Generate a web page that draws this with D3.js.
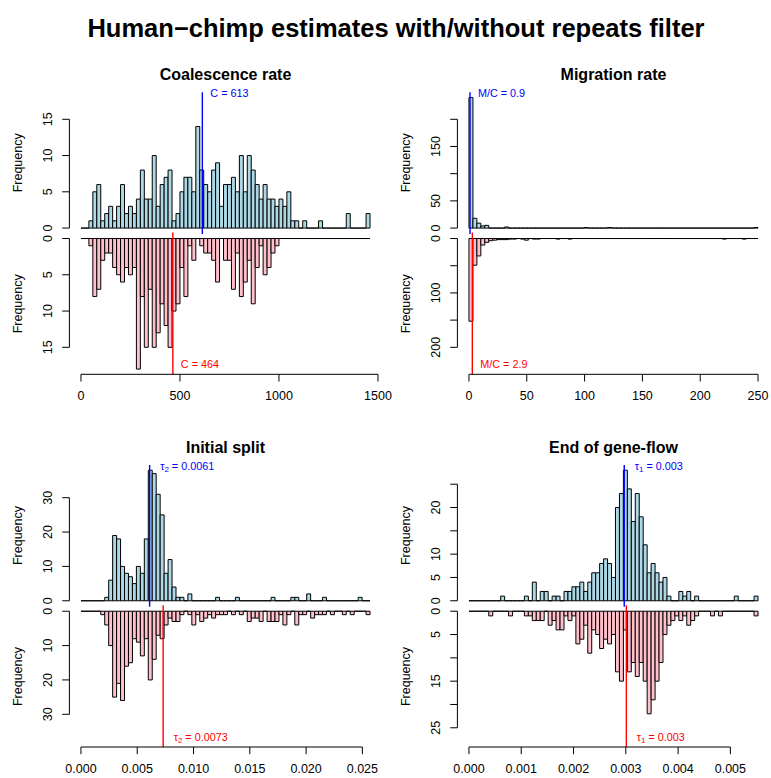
<!DOCTYPE html>
<html><head><meta charset="utf-8">
<script src="https://cdn.jsdelivr.net/npm/d3@7"></script>
<style>
body{margin:0;background:#fff}
svg{display:block}
text{font-family:"Liberation Sans",Arial,Helvetica,sans-serif}
</style>
</head><body>
<svg id="c" width="771" height="778"></svg>
<script>
// ---------------- data ----------------
const mainTitle = "Human\u2212chimp estimates with/without repeats filter";
const panelTitles = ["Coalescence rate", "Migration rate", "Initial split", "End of gene-flow"];
const nBins = 73;
const xMaxima = [1460, 250, 0.02568, 0.005529];

// histogram counts (73 equal bins from 0 to xMax), upper = blue, lower = pink
const coalUpper = [0,0,1,5,6,1,2,3,1,3, 6,2,3,2,4,8,4,4,10,3, 6,7,8,1,2,5,7,7,5,14, 8,6,5,8,9,3,6,6,7,5, 10,5,10,8,6,4,6,4,4,3, 4,3,5,1,1,0,1,0,0,0, 1,0,0,0,0,0,0,2,0,0, 0,0,2];
const coalLower = [0,0,1,8,7,3,2,2,4,5, 6,4,5,4,18,8,15,7,15,13, 9,12,15,10,9,4,8,1,3,0, 1,2,2,3,6,0,3,3,7,2, 8,6,3,9,4,1,5,4,2,1, 0,0,0,0,0,0,0,0,0,0, 0,0,0,0,0,0,0,0,0,0, 0,0,0];
const migUpper = [240,18,9,4,5,0,0,0,0,2, 0,0,0,0,0,0,0,0,0,0, 0,0,0,0,0,0,0,0,0,1, 0,0,0,0,0,1,0,0,0,0, 0,0,0,0,0,0,0,0,0,0, 0,0,0,0,0,0,0,0,0,0, 0,0,0,0,0,0,0,0,0,0, 0,0,1];
const migLower = [152,49,32,12,7,4,3,2,2,2, 1,1,0,1,3,0,1,1,0,0, 0,0,1,0,0,1,0,0,0,0, 0,0,0,0,0,0,0,0,0,0, 0,0,0,0,0,0,0,0,0,0, 0,0,0,0,0,0,0,0,0,0, 0,0,0,0,1,0,0,0,0,1, 0,0,0];
const splitUpper = [0,0,0,0,0,0,1,6,19,18, 10,8,7,5,10,8,18,38,37,31, 25,8,12,4,1,1,0,2,0,0, 0,0,0,0,1,0,0,0,0,1, 0,0,0,0,0,0,0,0,1,0, 0,0,0,1,1,0,0,2,0,0, 0,1,0,0,0,0,0,0,0,0, 1,0,0];
const splitLower = [0,0,0,0,0,1,4,10,25,21, 26,16,15,8,9,13,8,20,14,7, 8,4,2,3,3,1,0,1,4,1, 3,2,1,2,1,1,1,0,1,0, 1,0,3,2,2,3,0,3,3,3, 1,4,1,0,4,1,1,0,2,1, 1,1,0,1,0,0,1,0,1,0, 0,0,1];
const flowUpper = [0,0,0,0,0,0,0,0,1,0, 0,0,0,0,1,0,4,0,2,2, 0,1,1,0,2,2,3,3,4,2, 4,6,6,8,9,8,5,20,23,28, 24,17,23,18,12,6,8,6,4,5, 1,0,0,2,1,2,0,1,0,0, 0,0,0,0,0,0,0,1,0,0, 0,0,1];
const flowLower = [0,0,0,0,0,1,0,0,0,0, 1,0,0,0,1,1,2,2,2,0, 3,2,4,4,1,2,1,7,6,3, 9,4,5,8,6,7,5,13,15,4, 13,11,14,11,15,22,19,15,11,5, 3,2,1,2,1,3,2,1,0,0, 0,1,0,1,0,0,0,0,0,0, 0,0,1];

// axis ticks
const coalXTicks = [0, 500, 1000, 1500];
const migXTicks = [0, 50, 100, 150, 200, 250];
const splitXTicks = [0, 0.005, 0.010, 0.015, 0.020, 0.025];
const flowXTicks = [0, 0.001, 0.002, 0.003, 0.004, 0.005];
const coalYTicks = [0, 5, 10, 15];
const migYTicks = [0, 50, 100, 150, 200];
const splitYTicks = [0, 10, 20, 30];
const flowYTicks = [0, 5, 10, 15, 20, 25];
const coalYLabelsUpper = [0, 5, 10, 15], coalYLabelsLower = [0, 5, 10, 15];
const migYLabelsUpper = [0, 50, 150], migYLabelsLower = [0, 100, 200];
const splitYLabelsUpper = [0, 10, 20, 30], splitYLabelsLower = [0, 10, 20, 30];
const flowYLabelsUpper = [0, 5, 10, 20], flowYLabelsLower = [0, 5, 15, 25];

// point estimates
const upperEstimates = [613, 0.9, 0.0061, 0.00297];
const lowerEstimates = [464, 2.9, 0.0073, 0.00301];
const estSymbols = ["C", "M/C", "\u03c4", "\u03c4"];
const estSubscripts = ["", "", "2", "1"];
const upperEstText = ["613", "0.9", "0.0061", "0.003"];
const lowerEstText = ["464", "2.9", "0.0073", "0.003"];

// ---------------- drawing ----------------
const panels = [
  {up: coalUpper, lo: coalLower, xt: coalXTicks, yt: coalYTicks, ylu: coalYLabelsUpper, yll: coalYLabelsLower, fmt: d3.format("d")},
  {up: migUpper, lo: migLower, xt: migXTicks, yt: migYTicks, ylu: migYLabelsUpper, yll: migYLabelsLower, fmt: d3.format("d")},
  {up: splitUpper, lo: splitLower, xt: splitXTicks, yt: splitYTicks, ylu: splitYLabelsUpper, yll: splitYLabelsLower, fmt: d3.format(".3f")},
  {up: flowUpper, lo: flowLower, xt: flowXTicks, yt: flowYTicks, ylu: flowYLabelsUpper, yll: flowYLabelsLower, fmt: d3.format(".3f")}
];

const svg = d3.select("#c");
svg.append("rect").attr("width", 771).attr("height", 778).attr("fill", "#fff");
svg.append("text").attr("x", 396).attr("y", 37).attr("text-anchor", "middle")
  .attr("font-size", 25.5).attr("font-weight", "bold").attr("fill", "#000").text(mainTitle);

const FS = 12.5, TCK = 7.2;
const colLeft = [69.4, 457.4], plotW = 312.2, rowStep = 372.7;

panels.forEach((p, i) => {
  const col = i % 2, row = Math.floor(i / 2);
  const L = colLeft[col], R = L + plotW, dy = row * rowStep;
  const uTop = 92.3 + dy, mid = 233.3 + dy, lBot = 374.3 + dy;
  const xmax = xMaxima[i];
  const x = d3.scaleLinear().domain([-0.04 * xmax, 1.04 * xmax]).range([L, R]);
  const M = d3.max(p.up.concat(p.lo));
  const yU = d3.scaleLinear().domain([-0.04 * M, 1.04 * M]).range([mid, uTop]);
  const yL = d3.scaleLinear().domain([-0.04 * M, 1.04 * M]).range([mid, lBot]);
  const bw = xmax / nBins;
  const g = svg.append("g");

  // title
  g.append("text").attr("x", (L + R) / 2).attr("y", 80 + dy).attr("text-anchor", "middle")
    .attr("font-size", 16).attr("font-weight", "bold").text(panelTitles[i]);

  const barPath = (y) => (d, k) => {
    const x0 = x(k * bw), x1 = x((k + 1) * bw), y0 = y(0), y1 = y(d);
    return `M${x0},${y0}V${y1}H${x1}V${y0}Z`;
  };
  g.append("g").selectAll("path").data(p.up).join("path")
    .attr("d", barPath(yU)).attr("fill", "#ADD8E6").attr("stroke", "#000").attr("stroke-width", 1);
  g.append("g").selectAll("path").data(p.lo).join("path")
    .attr("d", barPath(yL)).attr("fill", "#FFC0CB").attr("stroke", "#000").attr("stroke-width", 1);

  // estimate lines
  const xu = x(upperEstimates[i]), xl = x(lowerEstimates[i]);
  g.append("line").attr("x1", xu).attr("x2", xu).attr("y1", uTop).attr("y2", mid + 0.7)
    .attr("stroke", "#0000FF").attr("stroke-width", 1.4);
  g.append("line").attr("x1", xl).attr("x2", xl).attr("y1", mid - 0.7).attr("y2", lBot)
    .attr("stroke", "#FF0000").attr("stroke-width", 1.4);
  const off = estSubscripts[i] ? 10.5 : 8;
  const lab = (xx, yy, col, val) => {
    const t = g.append("text").attr("x", xx + off).attr("y", yy).attr("font-size", 10.8).attr("fill", col);
    t.append("tspan").text(estSymbols[i]);
    if (estSubscripts[i]) t.append("tspan").attr("font-size", 8).attr("dy", 2.5).text(estSubscripts[i]);
    t.append("tspan").attr("dy", estSubscripts[i] ? -2.5 : 0).text(" = " + val);
  };
  lab(xu, 97 + dy, "#0000FF", upperEstText[i]);
  lab(xl, 368 + dy, "#FF0000", lowerEstText[i]);

  // y axes
  const yAxis = (y, ticks, labels, cy) => {
    const a = g.append("g").attr("stroke", "#000");
    a.append("line").attr("x1", L).attr("x2", L).attr("y1", y(ticks[0])).attr("y2", y(ticks[ticks.length - 1]));
    ticks.forEach(t => a.append("line").attr("x1", L).attr("x2", L - TCK).attr("y1", y(t)).attr("y2", y(t)));
    labels.forEach(t => g.append("text").attr("transform", `translate(${L - 17},${y(t)}) rotate(-90)`)
      .attr("text-anchor", "middle").attr("font-size", FS).text(t));
    g.append("text").attr("transform", `translate(${L - 47.5},${cy}) rotate(-90)`)
      .attr("text-anchor", "middle").attr("font-size", FS).text("Frequency");
  };
  yAxis(yU, p.yt, p.ylu, (uTop + mid) / 2);
  yAxis(yL, p.yt, p.yll, (mid + lBot) / 2);

  // x axis
  const xa = g.append("g").attr("stroke", "#000");
  xa.append("line").attr("x1", x(p.xt[0])).attr("x2", x(p.xt[p.xt.length - 1])).attr("y1", lBot).attr("y2", lBot);
  p.xt.forEach(t => xa.append("line").attr("x1", x(t)).attr("x2", x(t)).attr("y1", lBot).attr("y2", lBot + TCK));
  p.xt.forEach(t => g.append("text").attr("x", x(t)).attr("y", lBot + 26).attr("text-anchor", "middle")
    .attr("font-size", FS).text(p.fmt(t)));
});
</script>
</body></html>
